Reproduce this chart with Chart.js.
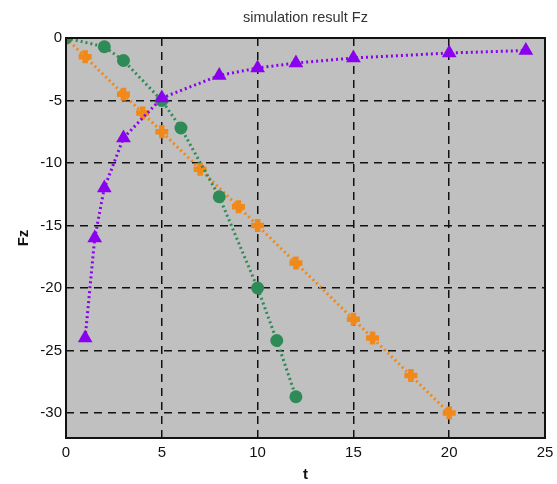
<!DOCTYPE html>
<html lang="en">
<head>
    <meta charset="UTF-8">
    <script src="https://cdn.jsdelivr.net/npm/chart.js"></script>
    <title>simulation result Fz</title>
    <style>
        body { margin: 0; background: #fff; }
        #wrap { width: 557px; height: 484px; }
    </style>
</head>
<body>
    <div id="wrap"><canvas id="grafico"></canvas></div>

<script>
    // dados
    var tLinear = [0, 1, 3, 4, 5, 7, 9, 10, 12, 15, 16, 18, 20];
    var fzLinear = [0, -1.5, -4.5, -6, -7.5, -10.5, -13.5, -15, -18, -22.5, -24, -27, -30];

    var tCurva = [0, 2, 3, 5, 6, 8, 10, 11, 12];
    var fzCurva = [0, -0.7, -1.8, -5, -7.2, -12.7, -20, -24.2, -28.7];

    var tInversa = [1, 1.5, 2, 3, 5, 8, 10, 12, 15, 20, 24];
    var fzInversa = [-24, -16, -12, -8, -4.8, -3, -2.4, -2, -1.6, -1.2, -1];

    var ticksX = [0, 5, 10, 15, 20, 25];
    var ticksY = [-30, -25, -20, -15, -10, -5, 0];

    function pontos(xs, ys) {
        var lista = [];
        for (var i = 0; i < xs.length; i++) {
            lista.push({ x: xs[i], y: ys[i] });
        }
        return lista;
    }

    // fundo cinza e moldura da area do grafico
    const fundo = {
        id: 'fundo',
        beforeDraw(chart) {
            const { ctx, chartArea: a } = chart;
            ctx.save();
            ctx.fillStyle = '#c0c0c0';
            ctx.fillRect(a.left, a.top, a.right - a.left, a.bottom - a.top);
            ctx.restore();
        },
        afterDraw(chart) {
            const { ctx, chartArea: a } = chart;
            ctx.save();
            ctx.strokeStyle = '#111';
            ctx.lineWidth = 2;
            ctx.strokeRect(a.left, a.top, a.right - a.left, a.bottom - a.top);
            ctx.restore();
        }
    };

    const linha = { borderWidth: 3, borderDash: [2, 3], showLine: true, tension: 0 };

    const config = {
        type: 'scatter',
        data: {
            datasets: [
                Object.assign({
                    label: 'inversa',
                    data: pontos(tInversa, fzInversa),
                    borderColor: '#8a00ef',
                    backgroundColor: '#8a00ef',
                    pointStyle: 'triangle',
                    pointRadius: 8.5,
                    pointBorderWidth: 0
                }, linha),
                Object.assign({
                    label: 'curva',
                    data: pontos(tCurva, fzCurva),
                    borderColor: '#2e8b57',
                    backgroundColor: '#2e8b57',
                    pointStyle: 'circle',
                    pointRadius: 6.5,
                    pointBorderWidth: 0
                }, linha),
                Object.assign({
                    label: 'linear',
                    data: pontos(tLinear, fzLinear),
                    borderColor: '#f0891a',
                    backgroundColor: '#f0891a',
                    pointStyle: 'cross',
                    pointRadius: 6.5,
                    pointBorderWidth: 5.5
                }, linha)
            ]
        },
        options: {
            responsive: true,
            maintainAspectRatio: false,
            animation: false,
            layout: { padding: { left: 0, right: 8, top: 0, bottom: 0 } },
            plugins: {
                legend: { display: false },
                tooltip: { enabled: false },
                title: {
                    display: true,
                    text: 'simulation result Fz',
                    fullSize: false,
                    color: '#333',
                    font: { family: 'Liberation Sans, Arial', size: 14.5, weight: 'normal' },
                    padding: { top: 9, bottom: 11.6 }
                }
            },
            scales: {
                x: {
                    type: 'linear',
                    min: 0,
                    max: 25,
                    afterBuildTicks: (axis) => { axis.ticks = ticksX.map(v => ({ value: v })); },
                    afterFit: (axis) => {
                        axis.height = 46;
                        axis.paddingLeft = 0;
                        axis.paddingRight = 0;
                    },
                    grid: {
                        color: '#111',
                        lineWidth: 1.5,
                        drawTicks: false
                    },
                    border: { display: false, dash: [8, 6] },
                    ticks: {
                        color: '#111',
                        padding: 6,
                        maxRotation: 0,
                        font: { family: 'Liberation Sans, Arial', size: 15 }
                    },
                    title: {
                        display: true,
                        text: 't',
                        color: '#111',
                        padding: { top: 0, bottom: 0 },
                        font: { family: 'Liberation Sans, Arial', size: 15, weight: 'bold' }
                    }
                },
                y: {
                    type: 'linear',
                    min: -32,
                    max: 0,
                    afterBuildTicks: (axis) => { axis.ticks = ticksY.map(v => ({ value: v })); },
                    afterFit: (axis) => {
                        axis.width = 66;
                        axis.paddingTop = 0;
                        axis.paddingBottom = 0;
                    },
                    grid: {
                        color: '#111',
                        lineWidth: 1.5,
                        drawTicks: false
                    },
                    border: { display: false, dash: [8, 6] },
                    ticks: {
                        color: '#111',
                        padding: 4,
                        font: { family: 'Liberation Sans, Arial', size: 15 }
                    },
                    title: {
                        display: true,
                        text: 'Fz',
                        color: '#111',
                        padding: { top: 15, bottom: 6 },
                        font: { family: 'Liberation Sans, Arial', size: 15, weight: 'bold' }
                    }
                }
            }
        },
        plugins: [fundo]
    };

    let myChart = new Chart(document.getElementById('grafico'), config);
</script>
</body>
</html>
